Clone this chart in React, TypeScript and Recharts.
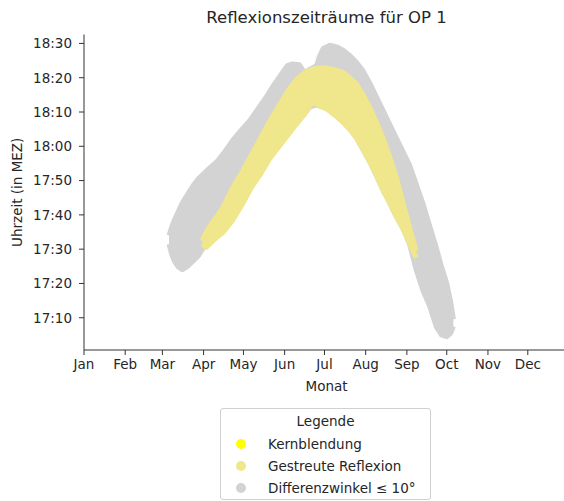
import { Area, ComposedChart, XAxis, YAxis } from "recharts";

// x = day of year (0 = 1 Jan), y = minutes after 17:00
const monthTicks = [0, 31, 59, 90, 120, 151, 181, 212, 243, 273, 304, 334];
const monthLabels = ["Jan", "Feb", "Mar", "Apr", "May", "Jun", "Jul", "Aug", "Sep", "Oct", "Nov", "Dec"];
const timeTicks = [10, 20, 30, 40, 50, 60, 70, 80, 90];

// Differenzwinkel ≤ 10° band (lower / upper edge per day)
const grayDays = [64, 66, 68, 71, 74, 78, 82, 86, 90, 94, 100, 106, 112, 119, 125, 131, 137, 143, 149, 153, 157, 162, 166, 170, 175, 177, 180, 185, 190, 195, 200, 205, 210, 215, 220, 225, 230, 235, 240, 245, 250, 255, 260, 265, 269, 273, 276, 278];
const grayLow = [31.5, 28.5, 26.5, 24.8, 24, 25, 26.5, 28, 30.5, 31.5, 34, 36, 39, 44, 48.5, 52, 56, 59, 62, 64, 65.5, 67.5, 69.5, 71.5, 72, 71.8, 71.5, 70.5, 69, 67, 65, 62.5, 59, 55.5, 51.5, 47.2, 43.5, 39.5, 36, 31.5, 24, 18, 13.5, 7.5, 5, 4.5, 5.5, 7.5];
const grayHigh = [34, 36.5, 38.5, 41, 43.5, 46, 48.5, 50.5, 52, 53.5, 55.5, 58.5, 61.8, 65, 67.6, 71, 74.3, 78, 81.3, 83.5, 84, 83.8, 81.5, 82.5, 83.5, 86, 88.5, 89.5, 89, 88, 86.5, 84.5, 82, 78.5, 74.5, 70.5, 66.5, 62.5, 58.5, 54.5, 49, 43.4, 37, 30.6, 25, 20, 14.5, 9.5];

// Gestreute Reflexion band
const khakiDays = [89, 92, 96, 100, 105, 112, 119, 126, 133, 140, 147, 154, 160, 166, 172, 177, 183, 189, 195, 200, 205, 210, 215, 220, 225, 230, 235, 240, 244, 247, 250];
const khakiLow = [31.5, 30.5, 32, 33.5, 35, 38.5, 43, 48, 52, 56.5, 60, 63.5, 66.5, 69.5, 72.9, 71.8, 70.8, 69, 67, 65, 62.5, 59, 55.5, 51.5, 47.2, 43.5, 39.5, 36, 32.5, 30, 27.5];
const khakiHigh = [32.5, 35, 37.5, 39.5, 42.5, 48, 52.5, 57.5, 62.5, 67.5, 72, 76.5, 79.5, 81.5, 82.5, 82.8, 82.8, 82.3, 81.5, 80, 78.2, 75, 71.4, 67, 62.5, 57, 51, 43.5, 38, 33.5, 29.5];

const legendItems = [
  { name: "Kernblendung", color: "#ffff00" },
  { name: "Gestreute Reflexion", color: "#f0e68c" },
  { name: "Differenzwinkel ≤ 10°", color: "#d3d3d3" },
];

const grayRows = grayDays.map((d, i) => ({ day: d, range: [grayLow[i], grayHigh[i]] }));
const khakiRows = khakiDays.map((d, i) => ({ day: d, range: [khakiLow[i], khakiHigh[i]] }));

const FONT = "DejaVu Sans, sans-serif";
const INK = "#262626";

function fmtTime(m: number) {
  const h = 17 + Math.floor(m / 60);
  const mm = m % 60;
  return `${h}:${mm < 10 ? "0" + mm : mm}`;
}

export default function App() {
  return (
    <div style={{ position: "fixed", left: 0, top: 0, width: 564, height: 501, overflow: "hidden", background: "#fff", fontFamily: FONT }}>
      <div style={{ position: "absolute", left: 0, width: 653, top: 8, textAlign: "center", fontSize: 16.5, color: INK }}>
        Reflexionszeiträume für OP 1
      </div>
      <ComposedChart width={600} height={501} margin={{ top: 34.5, right: 31, left: 0, bottom: 106 }} style={{ fontFamily: FONT }}>
        <XAxis
          type="number"
          dataKey="day"
          domain={[0, 365]}
          ticks={monthTicks}
          tickFormatter={(v: number) => monthLabels[monthTicks.indexOf(v)]}
          height={45}
          stroke="#333"
          tickSize={5}
          tickMargin={4}
          tick={{ fill: INK, fontSize: 13.5 }}
          allowDataOverflow
          label={{ value: "Monat", position: "insideBottom", offset: 4, fill: INK, fontSize: 13.5 }}
        />
        <XAxis xAxisId="top" orientation="top" type="number" domain={[0, 365]} height={0} tick={false} tickLine={false} stroke="#333" />
        <YAxis
          type="number"
          domain={[0.6, 92.6]}
          ticks={timeTicks}
          tickFormatter={fmtTime}
          width={84}
          stroke="#333"
          tickSize={5}
          tickMargin={7}
          tick={{ fill: INK, fontSize: 13.5 }}
          allowDataOverflow
          label={{ value: "Uhrzeit (in MEZ)", angle: -90, position: "insideLeft", offset: 17, fill: INK, fontSize: 13.5, style: { textAnchor: "middle" } }}
        />
        <Area
          data={grayRows}
          dataKey="range"
          type="linear"
          fill="#d3d3d3"
          fillOpacity={1}
          stroke="#d3d3d3"
          strokeWidth={5}
          strokeLinejoin="round"
          isAnimationActive={false}
          dot={false}
          activeDot={false}
        />
        <Area
          data={khakiRows}
          dataKey="range"
          type="linear"
          fill="#f0e68c"
          fillOpacity={1}
          stroke="#f0e68c"
          strokeWidth={5}
          strokeLinejoin="round"
          isAnimationActive={false}
          dot={false}
          activeDot={false}
        />
      </ComposedChart>
      <div
        style={{
          position: "absolute",
          left: 220,
          top: 408,
          width: 211,
          height: 92,
          border: "1px solid #d0d0d0",
          borderRadius: 3,
          boxSizing: "border-box",
          fontSize: 13.5,
          color: INK,
        }}
      >
        <div style={{ textAlign: "center", marginTop: 4, marginBottom: 3, lineHeight: "17px" }}>Legende</div>
        {legendItems.map((it) => (
          <div key={it.name} style={{ display: "flex", alignItems: "center", height: 22 }}>
            <span style={{ display: "inline-block", width: 10, height: 10, borderRadius: 5, background: it.color, marginLeft: 15, marginRight: 22 }} />
            <span>{it.name}</span>
          </div>
        ))}
      </div>
    </div>
  );
}
